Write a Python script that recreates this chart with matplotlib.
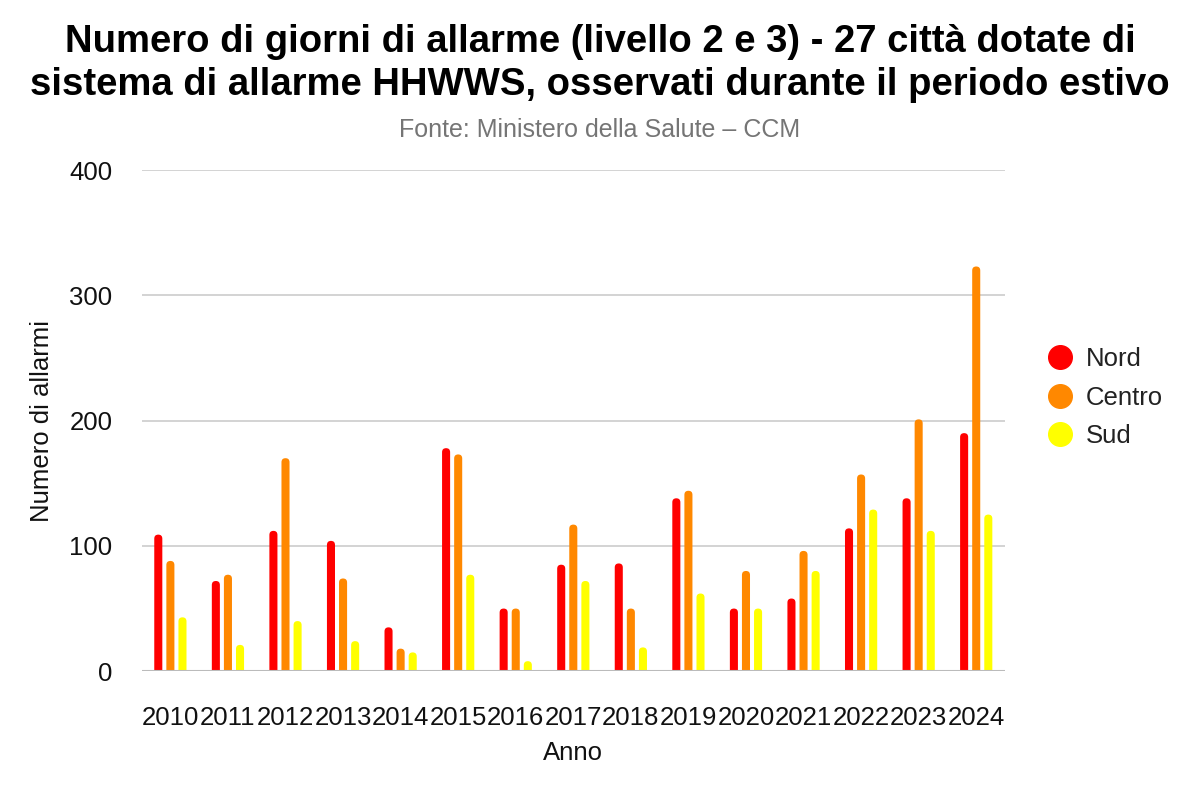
import matplotlib
matplotlib.use("Agg")
import matplotlib.pyplot as plt
from matplotlib.lines import Line2D
from matplotlib.patches import FancyBboxPatch
import numpy as np

plt.rcParams['font.family'] = ['Liberation Sans', 'DejaVu Sans']

years = ["2010", "2011", "2012", "2013", "2014", "2015", "2016", "2017",
         "2018", "2019", "2020", "2021", "2022", "2023", "2024"]
nord = [109, 72, 112, 104, 35, 178, 50, 85, 86, 138, 50, 58, 114, 138, 190]
centro = [88, 77, 170, 74, 18, 173, 50, 117, 50, 144, 80, 96, 157, 201, 323]
sud = [43, 21, 40, 24, 15, 77, 8, 72, 19, 62, 50, 80, 129, 112, 125]
series_names = ["Nord", "Centro", "Sud"]
colors = ["#ff0000", "#ff8800", "#ffff00"]

fig = plt.figure(figsize=(12, 8), dpi=100)
ax = fig.add_axes([0.118, 0.161, 0.7195, 0.6265])

x = np.arange(len(years))
w = 0.14
off = 0.21
rx = w / 2
ry = 3.2  # corner radius in y data units (~4 px)
for i, (vals, c, name) in enumerate(zip([nord, centro, sud], colors, series_names)):
    bars = ax.bar(x + (i - 1) * off, vals, width=w, color=c, label=name, zorder=3)
    for b in bars:
        b.set_visible(False)
        bx, bw, bh = b.get_x(), b.get_width(), b.get_height()
        p = FancyBboxPatch((bx, -ry), bw, bh + ry,
                           boxstyle=f"round,pad=0,rounding_size={rx}",
                           mutation_aspect=ry / rx, facecolor=c, edgecolor='none',
                           zorder=3, clip_on=True)
        ax.add_patch(p)

ax.set_xlim(-0.5, len(years) - 0.5)
ax.set_ylim(0, 400)
ax.set_yticks([0, 100, 200, 300, 400])
ax.set_xticks(x)
ax.set_xticklabels(years)
ax.grid(axis='y', color='#cccccc', linewidth=1.2, zorder=0)
ax.axhline(0, color='#bbbbbb', linewidth=1.5, zorder=4)
for s in ax.spines.values():
    s.set_visible(False)
ax.tick_params(axis='both', length=0, labelsize=18.5, colors='#111111')
ax.tick_params(axis='x', pad=25)
ax.tick_params(axis='y', pad=21)
ax.set_xlabel("Anno", fontsize=18.5, color='#111111', labelpad=8)
ax.set_ylabel("Numero di allarmi", fontsize=18.5, color='#111111', labelpad=11)

fig.text(0.5, 0.9205, "Numero di giorni di allarme (livello 2 e 3) - 27 città dotate di\nsistema di allarme HHWWS, osservati durante il periodo estivo",
         ha='center', va='center', fontsize=27.5, fontweight='bold', linespacing=1.25)
fig.text(0.5, 0.8375, "Fonte: Ministero della Salute – CCM", ha='center', va='center',
         fontsize=18, color='#757575')

handles = [Line2D([0], [0], marker='o', linestyle='', markersize=17, markerfacecolor=c,
                  markeredgecolor=c) for c in colors]
ax.legend(handles, series_names, loc='center left', bbox_to_anchor=(1.022, 0.546), frameon=False,
          fontsize=18.5, handlelength=1.0, labelspacing=0.55, handletextpad=0.5,
          labelcolor='#222222')

fig.savefig("out.png", dpi=100)
